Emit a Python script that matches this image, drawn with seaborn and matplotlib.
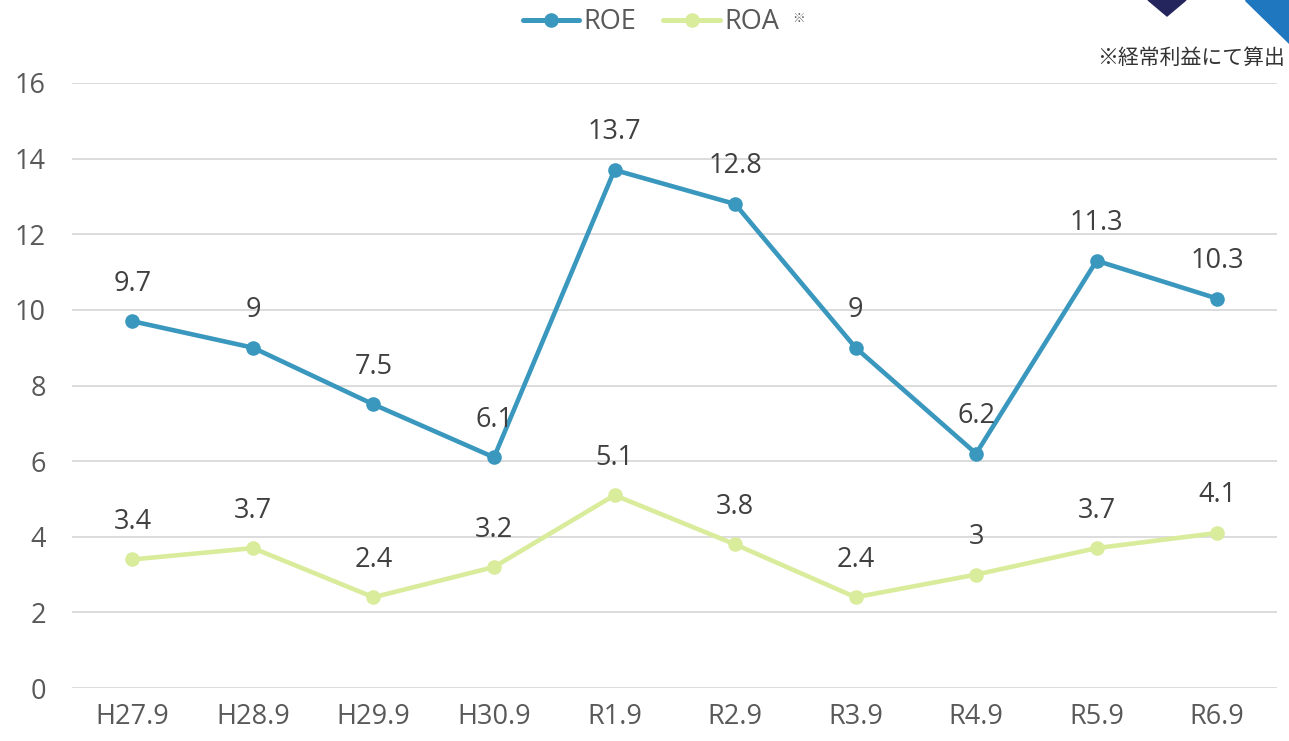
import matplotlib
matplotlib.use("Agg")
import matplotlib.pyplot as plt
import seaborn as sns
import pandas as pd
from matplotlib.patches import Polygon
from matplotlib.lines import Line2D

periods = ["H27.9", "H28.9", "H29.9", "H30.9", "R1.9", "R2.9", "R3.9", "R4.9", "R5.9", "R6.9"]
roe = [9.7, 9.0, 7.5, 6.1, 13.7, 12.8, 9.0, 6.2, 11.3, 10.3]
roa = [3.4, 3.7, 2.4, 3.2, 5.1, 3.8, 2.4, 3.0, 3.7, 4.1]
yticks = [0, 2, 4, 6, 8, 10, 12, 14, 16]

sns.set_theme(style="white")
plt.rcParams['font.family'] = ['Open Sans', 'Noto Sans CJK JP', 'DejaVu Sans']

roe_color = "#3A97BE"
roa_color = "#D9EC9C"
text_color = "#595959"
fs = 19.5

df = pd.DataFrame({"period": periods * 2,
                   "value": roe + roa,
                   "series": ["ROE"] * len(periods) + ["ROA"] * len(periods)})
df["x"] = list(range(len(periods))) * 2

fig = plt.figure(figsize=(12.89, 7.41), dpi=100)
ax = fig.add_axes([0.056, 0.0715, 0.935, 0.8165])

sns.lineplot(data=df, x="x", y="value", hue="series", palette={"ROE": roe_color, "ROA": roa_color},
             marker="o", markersize=10.5, markeredgewidth=0, linewidth=3.3, ax=ax, legend=False)

ax.set_xlim(-0.5, len(periods) - 0.5)
ax.set_ylim(0, 16)
ax.set_yticks(yticks)
ax.set_yticklabels([str(t) for t in yticks])
ax.set_xticks(range(len(periods)))
ax.set_xticklabels(periods)
ax.tick_params(axis="both", colors=text_color, labelsize=fs, length=0)
ax.tick_params(axis="x", pad=11)
ax.tick_params(axis="y", pad=19)
for lbl in ax.get_xticklabels() + ax.get_yticklabels():
    lbl.set_color(text_color)
ax.set_xlabel("")
ax.set_ylabel("")
ax.yaxis.grid(True, color="#D9D9D9", linewidth=1.3)
ax.set_axisbelow(True)
for s in ax.spines.values():
    s.set_visible(False)

def fmt(v):
    return str(int(v)) if float(v).is_integer() else str(v)

for i, v in enumerate(roe):
    ax.annotate(fmt(v), (i, v), xytext=(0, 27), textcoords="offset points",
                ha="center", va="center", fontsize=fs, color="#404040")
for i, v in enumerate(roa):
    ax.annotate(fmt(v), (i, v), xytext=(0, 27), textcoords="offset points",
                ha="center", va="center", fontsize=fs, color="#404040")

# legend
handles = [Line2D([0], [0], color=roe_color, lw=3.6, marker="o", markersize=10.5, markeredgewidth=0),
           Line2D([0], [0], color=roa_color, lw=3.6, marker="o", markersize=10.5, markeredgewidth=0)]
leg = fig.legend(handles, ["ROE", "ROA"], loc="center", bbox_to_anchor=(0.505, 0.97),
                 ncol=2, frameon=False, fontsize=fs, handlelength=2.1, handletextpad=0.15,
                 columnspacing=1.0, labelcolor=text_color)
fig.text(799 / 1289, 0.975, "※", fontsize=9, color=text_color, ha="center", va="center")

fig.text(0.997, 0.921, "※経常利益にて算出", fontsize=15, color="#333333", ha="right", va="center")

# decorative corner triangles
fig.patches.append(Polygon([[1148 / 1289, 1.0], [1186 / 1289, 1.0], [1167 / 1289, 1 - 16 / 741]],
                           closed=True, transform=fig.transFigure, color="#25255E"))
fig.patches.append(Polygon([[1245 / 1289, 1.0], [1.0, 1.0], [1.0, 1 - 43 / 741]],
                           closed=True, transform=fig.transFigure, color="#1F77C0"))

fig.savefig("out.png", dpi=100)
